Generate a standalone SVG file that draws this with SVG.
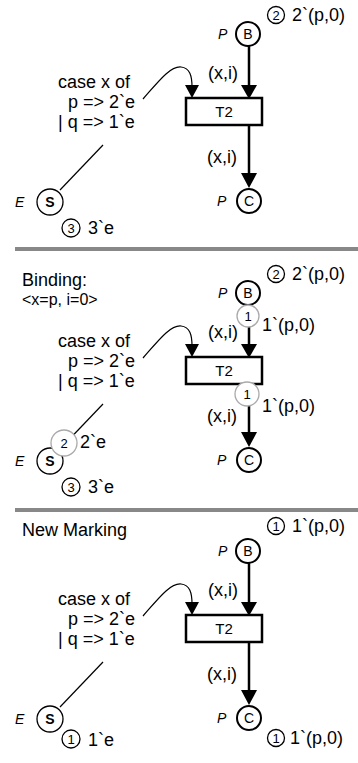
<svg xmlns="http://www.w3.org/2000/svg" width="358" height="763" viewBox="0 0 358 763">
<style>
text{font-family:"Liberation Sans",Arial,sans-serif;fill:#000}
.t{font-size:18px}
.lbl{font-size:14px;font-style:italic}
.pn{font-size:14px;text-anchor:middle}
.tk{font-size:13px;text-anchor:middle}
.place{fill:#fff;stroke:#000;stroke-width:2}
.thin{fill:#fff;stroke:#000;stroke-width:1.3}
.bub{fill:#fff;stroke:#aaa;stroke-width:1.3}
.arc{stroke:#000;stroke-width:2.5;fill:none}
.ln{stroke:#000;stroke-width:1.2;fill:none}
.trans{fill:#fff;stroke:#000;stroke-width:2.5}
.sep{stroke:#888;stroke-width:4}
</style>
<defs>
<g id="base">
  <g id="connectors">
    <line class="arc" x1="249" y1="46" x2="249" y2="88"/>
    <polygon points="241,85 257,85 249,99"/>
    <line class="arc" x1="249" y1="125" x2="249" y2="176"/>
    <polygon points="241,173 257,173 249,188"/>
    <path class="ln" d="M143 99 C158 82 170 66 181 67 C190 68 192 76 192 87"/>
    <polygon points="185,85 199,85 192,98"/>
    <line class="ln" x1="60" y1="190" x2="103" y2="145"/>
  </g>
  <g id="T2"><rect class="trans" x="186" y="98" width="76" height="27"/><text x="224" y="117" style="font-size:15px;text-anchor:middle">T2</text></g>
  <g id="B"><circle class="place" cx="248" cy="34" r="12"/><text class="pn" x="248" y="39">B</text><text class="lbl" x="218" y="39">P</text></g>
  <g id="C"><circle class="place" cx="249" cy="201" r="12"/><text class="pn" x="249" y="206">C</text><text class="lbl" x="217" y="206">P</text></g>
  <g id="S"><circle class="thin" cx="50" cy="202" r="13"/><text class="pn" x="50" y="207" style="font-weight:bold">S</text><text class="lbl" x="15" y="207">E</text></g>
  <text class="t" x="208" y="79">(x,i)</text>
  <text class="t" x="207" y="163">(x,i)</text>
  <text class="t" x="58" y="88">case x of</text>
  <text class="t" x="68" y="108">p =&gt; 2`e</text>
  <text class="t" x="58" y="128">| q =&gt; 1`e</text>
</g>
</defs>

<g id="panel1">
  <use href="#base"/>
  <g id="p1-tokB"><circle class="thin" cx="276" cy="15" r="8.5"/><text class="tk" x="276" y="19.5">2</text><text class="t" x="292" y="21">2`(p,0)</text></g>
  <g id="p1-tokS"><circle class="thin" cx="71" cy="228" r="9"/><text class="tk" x="71" y="232.5">3</text><text class="t" x="88" y="234">3`e</text></g>
</g>
<line class="sep" x1="15" y1="249" x2="358" y2="249"/>

<g id="panel2" transform="translate(0,259)">
  <use href="#base"/>
  <text class="t" x="22" y="27">Binding:</text>
  <text x="22" y="46" style="font-size:16px">&lt;x=p, i=0&gt;</text>
  <g id="p2-tokB"><circle class="thin" cx="276" cy="15" r="8.5"/><text class="tk" x="276" y="19.5">2</text><text class="t" x="292" y="21">2`(p,0)</text></g>
  <g id="p2-bindB"><circle class="bub" cx="248" cy="57" r="11"/><text class="tk" x="248" y="61.5">1</text><text class="t" x="262" y="72">1`(p,0)</text></g>
  <g id="p2-bindC"><circle class="bub" cx="247" cy="135" r="12"/><text class="tk" x="247" y="139.5">1</text><text class="t" x="262" y="153">1`(p,0)</text></g>
  <g id="p2-bindS"><circle class="bub" cx="64" cy="184" r="13"/><text class="tk" x="64" y="188.5">2</text><text class="t" x="80" y="189">2`e</text></g>
  <g id="p2-tokS"><circle class="thin" cx="71" cy="228" r="9"/><text class="tk" x="71" y="232.5">3</text><text class="t" x="88" y="234">3`e</text></g>
</g>
<line class="sep" x1="15" y1="510" x2="358" y2="510"/>

<g id="panel3" transform="translate(0,517)">
  <use href="#base"/>
  <text class="t" x="22" y="19">New Marking</text>
  <g id="p3-tokB"><circle class="thin" cx="276" cy="9" r="8.5"/><text class="tk" x="276" y="13.5">1</text><text class="t" x="292" y="15">1`(p,0)</text></g>
  <g id="p3-tokS"><circle class="thin" cx="71" cy="222" r="9"/><text class="tk" x="71" y="226.5">1</text><text class="t" x="88" y="229">1`e</text></g>
  <g id="p3-tokC"><circle class="thin" cx="276" cy="221" r="8.5"/><text class="tk" x="276" y="225.5">1</text><text class="t" x="290" y="227">1`(p,0)</text></g>
</g>
</svg>
